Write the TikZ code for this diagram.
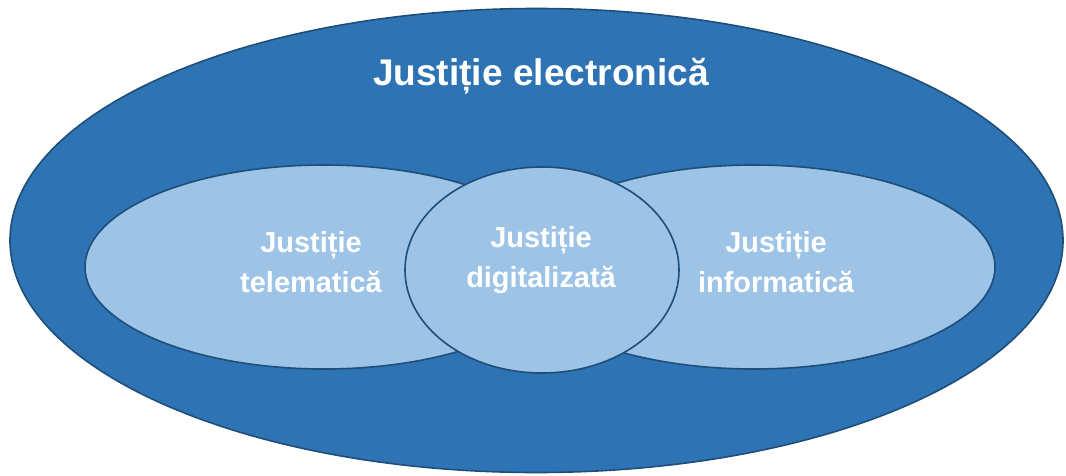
\documentclass[tikz,border=0pt]{standalone}
\usepackage{fontspec}
\setmainfont{Liberation Sans}
\usepackage{xcolor}
\usepackage{tikz}

\definecolor{darkfill}{HTML}{2E74B5}
\definecolor{lightfill}{HTML}{9DC3E6}
\definecolor{edgeblue}{HTML}{1F4E79}

\begin{document}
\begin{tikzpicture}[x=0.75pt,y=-0.75pt,
	outer/.style={fill=darkfill, draw=edgeblue, line width=1.2pt},
	inner/.style={fill=lightfill, draw=edgeblue, line width=1.2pt},
	title/.style={text=white, font=\bfseries\fontsize{27.8}{32}\selectfont},
	label/.style={text=white, font=\bfseries\fontsize{21.7}{30}\selectfont, align=center}]

\useasboundingbox (0,0) rectangle (1066,475);

\draw[outer] (536.5,240.5) ellipse [x radius=526.5, y radius=232];

\draw[inner] (324,267) ellipse [x radius=239, y radius=102];
\draw[inner] (754,267) ellipse [x radius=241, y radius=102];
\draw[inner] (542,270) ellipse [x radius=137, y radius=103];

\node[title] (electronica) at (541,76) {Justiție electronică};

\node[label] (telematica) at (311,262) {Justiție\\telematică};
\node[label] (digitalizata) at (541,260) {Justiție\\digitalizată};
\node[label] (informatica) at (776,262) {Justiție\\informatică};

\end{tikzpicture}
\end{document}
